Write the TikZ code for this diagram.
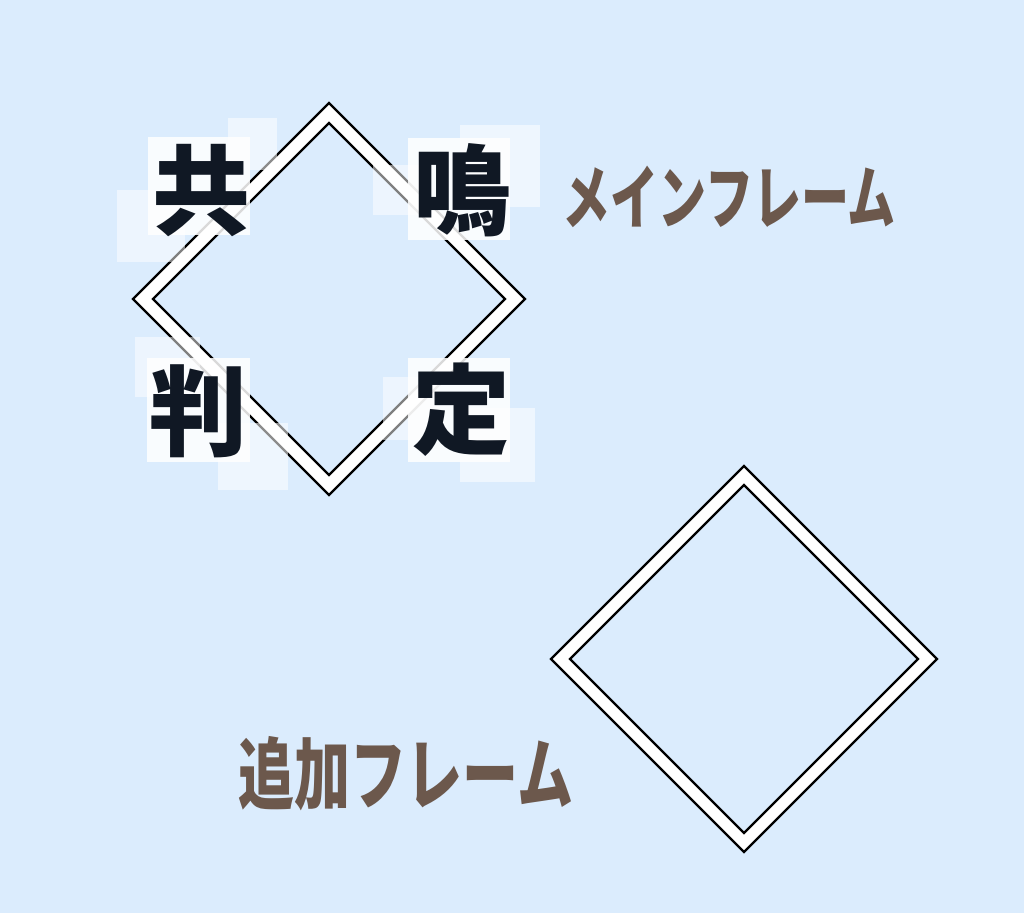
\documentclass[tikz,border=0pt]{standalone}
\usepackage{fontspec}
\usepackage[RGB]{xcolor}
\usepackage{tikz}
\newfontfamily\jpfont{Noto Sans CJK JP}
\newcommand{\drawframe}[4]{
    \draw[line width=2.3pt,fill=white] (#1,#2-#3)--++(#3,#3)--++(-#3,#3)--++(-#3,-#3)--cycle;
    \draw[line width=2.3pt,fill=bg] (#1,#2-#4)--++(#4,#4)--++(-#4,#4)--++(-#4,-#4)--cycle;
}
\newcommand{\glowsquare}[5]{\fill[white,opacity=#1] (#2,#3) rectangle (#4,#5);}
\newcommand{\kanjisquare}[4]{\node[text=ink,inner sep=0pt,font=\jpfont\bfseries\fontsize{98}{98}\selectfont] (#1) at (#2,#3) {#4};}
\definecolor{bg}{RGB}{219,236,253}
\definecolor{ink}{RGB}{16,24,36}
\definecolor{framebrown}{RGB}{108,88,76}

\begin{document}
\begin{tikzpicture}[x=1pt,y=-1pt]
\fill[bg] (0,0) rectangle (1024,913);
\useasboundingbox (0,0) rectangle (1024,913);
\drawframe{329}{299}{196}{176}
\drawframe{744}{659}{193}{174}
\glowsquare{0.55}{228}{118}{277}{170}\glowsquare{0.5}{117}{190}{185}{262}
\glowsquare{0.55}{460}{125}{540}{207}\glowsquare{0.5}{373}{165}{430}{215}
\glowsquare{0.5}{135}{337}{200}{397}\glowsquare{0.55}{218}{423}{288}{490}
\glowsquare{0.5}{383}{377}{440}{440}\glowsquare{0.55}{460}{408}{535}{482}
\glowsquare{0.85}{148}{137}{250}{235}\glowsquare{0.85}{408}{138}{510}{240}
\glowsquare{0.85}{147}{358}{250}{462}\glowsquare{0.85}{408}{358}{510}{462}
\kanjisquare{kyo}{201}{191}{共}\kanjisquare{mei}{462}{190}{鳴}
\kanjisquare{han}{198}{411}{判}\kanjisquare{tei}{461}{410}{定}
\node[text=framebrown,inner sep=0pt,yscale=1.45,font=\jpfont\bfseries\fontsize{48}{48}\selectfont] (mainframe) at (729,197) {メインフレーム};
\node[text=framebrown,inner sep=0pt,yscale=1.4,font=\jpfont\bfseries\fontsize{56}{56}\selectfont] (addframe) at (406,774) {追加フレーム};
\end{tikzpicture}
\end{document}
